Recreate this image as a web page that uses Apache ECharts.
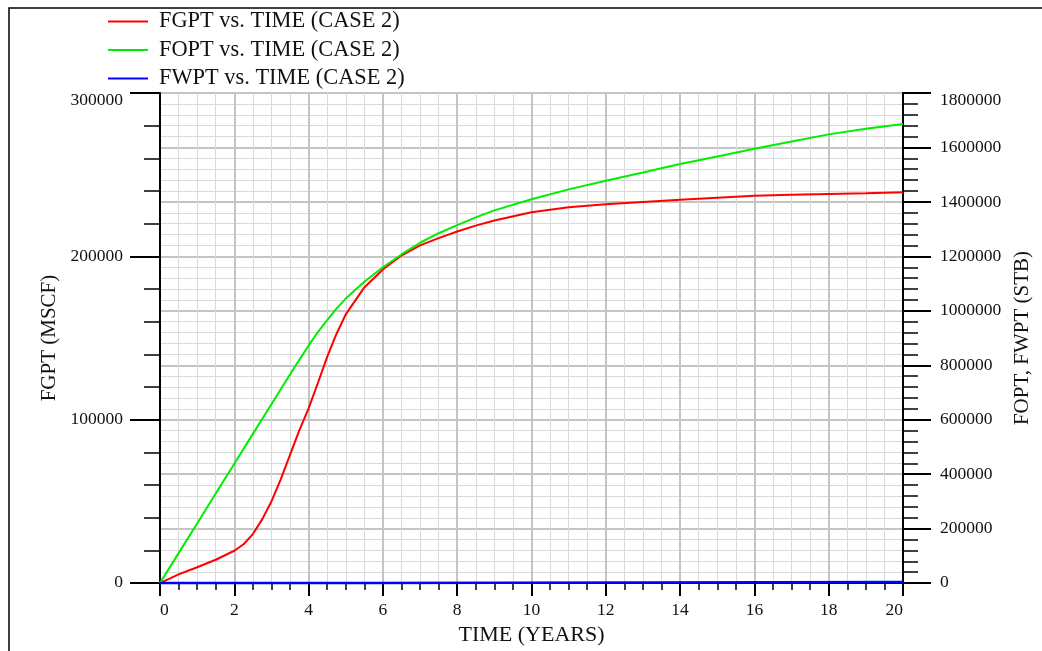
<!DOCTYPE html>
<html>
<head>
<meta charset="utf-8">
<script src="https://cdn.jsdelivr.net/npm/echarts@6/dist/echarts.min.js"></script>
<style>
  html, body { margin: 0; padding: 0; background: #ffffff; }
  #chart { width: 1042px; height: 651px; }
</style>
</head>
<body>
<div id="chart"></div>
<script>
// Simulation time (years)
const TIME = [0, 0.5, 1, 1.5, 2, 2.25, 2.5, 2.75, 3, 3.25, 3.5, 3.75, 4, 4.25, 4.5, 4.75, 5,
  5.5, 6, 6.5, 7, 7.5, 8, 8.5, 9, 10, 11, 12, 13, 14, 15, 16, 17, 18, 19, 20];
// Field gas production total (MSCF)
const FGPT = [0, 5300, 9700, 14300, 19800, 23800, 30000, 39000, 50000, 63500, 78500, 93500,
  107000, 122500, 138500, 152500, 164500, 181000, 192000, 200500, 206700, 211200, 215200,
  218800, 222000, 227000, 230000, 231900, 233300, 234700, 235900, 237100, 237700, 238200,
  238700, 239300];
// Field oil production total (STB)
const FOPT = [0, 110000, 219000, 329000, 438000, 493000, 548000, 603000, 657000, 712000,
  766000, 820000, 872000, 922000, 966000, 1008000, 1045000, 1107000, 1160000, 1207000,
  1250000, 1285000, 1315000, 1343000, 1369000, 1410000, 1446000, 1478000, 1508000,
  1539000, 1567000, 1595000, 1622000, 1648000, 1669000, 1686000];
// Field water production total (STB)
const WATER_TIME = [0, 5.55, 5.6, 20];
const FWPT = [0, 0, 3600, 3600];

const SERIES_NAMES = ['FGPT vs. TIME (CASE 2)', 'FOPT vs. TIME (CASE 2)', 'FWPT vs. TIME (CASE 2)'];
const X_TICKS = { min: 0, max: 20, step: 2 };
const LEFT_TICKS = { min: 0, max: 300000, step: 100000 };
const RIGHT_TICKS = { min: 0, max: 1800000, step: 200000 };

const pairs = (xs, ys) => xs.map((x, i) => [x, ys[i]]);

const FONT = '"Liberation Serif", "DejaVu Serif", serif';
const MAJOR_GRID = '#c4c4c4';
const MINOR_GRID = '#dadada';

// the top label sits a little below its tick
function yLabel(max) {
  return function (v) {
    if (v === max) return '{hi|' + v + '}';
    if (v === 0) return '{lo|' + v + '}';
    return '{n|' + v + '}';
  };
}
const labelRich = {
  n: { fontFamily: FONT, fontSize: 17.5, color: '#111' },
  hi: { fontFamily: FONT, fontSize: 17.5, color: '#111', padding: [14, 0, 0, 0] },
  lo: { fontFamily: FONT, fontSize: 17.5, color: '#111', padding: [0, 0, 1, 0] }
};

const chart = echarts.init(document.getElementById('chart'), null, { renderer: 'canvas' });

chart.setOption({
  backgroundColor: '#ffffff',
  animation: false,
  graphic: [{
    type: 'polyline',
    shape: { points: [[9, 660], [9, 8], [1050, 8]] },
    style: { stroke: '#000', lineWidth: 1.5, fill: null },
    silent: true
  }],
  legend: {
    orient: 'vertical',
    left: 103,
    top: 5,
    itemWidth: 40,
    itemHeight: 2,
    itemGap: 5.5,
    icon: 'rect',
    textStyle: { fontFamily: FONT, fontSize: 22.4, color: '#111', lineHeight: 23, padding: [0, 0, 0, 6] },
    data: SERIES_NAMES
  },
  grid: { left: 160, right: 139, top: 93, bottom: 62, containLabel: false },
  xAxis: {
    type: 'value',
    min: X_TICKS.min, max: X_TICKS.max, interval: X_TICKS.step,
    name: 'TIME (YEARS)',
    nameLocation: 'middle',
    nameGap: 29,
    nameTextStyle: { fontFamily: FONT, fontSize: 22, color: '#111' },
    axisLine: { lineStyle: { color: '#000', width: 2 } },
    axisTick: { length: 13, lineStyle: { color: '#000', width: 2 } },
    minorTick: { show: true, splitNumber: 4, length: 7, lineStyle: { color: '#000', width: 1.5 } },
    axisLabel: {
      fontFamily: FONT, fontSize: 17.5, color: '#111', margin: 18,
      alignMinLabel: 'left', alignMaxLabel: 'right'
    },
    splitLine: { show: true, lineStyle: { color: MAJOR_GRID, width: 2 } },
    minorSplitLine: { show: true, lineStyle: { color: MINOR_GRID, width: 1 } }
  },
  yAxis: [{
    type: 'value',
    position: 'left',
    min: LEFT_TICKS.min, max: LEFT_TICKS.max, interval: LEFT_TICKS.step,
    name: 'FGPT (MSCF)',
    nameLocation: 'middle',
    nameRotate: 90,
    nameGap: 100,
    nameTextStyle: { fontFamily: FONT, fontSize: 21, color: '#111' },
    axisLine: { show: true, onZero: false, lineStyle: { color: '#000', width: 2 } },
    axisTick: { show: true, length: 30, lineStyle: { color: '#000', width: 2 } },
    minorTick: { show: true, splitNumber: 5, length: 16, lineStyle: { color: '#000', width: 1.5 } },
    axisLabel: { margin: 37, formatter: yLabel(LEFT_TICKS.max), rich: labelRich },
    splitLine: { show: false },
    minorSplitLine: { show: false }
  }, {
    type: 'value',
    position: 'right',
    min: RIGHT_TICKS.min, max: RIGHT_TICKS.max, interval: RIGHT_TICKS.step,
    name: 'FOPT, FWPT (STB)',
    nameLocation: 'middle',
    nameRotate: 90,
    nameGap: 102,
    nameTextStyle: { fontFamily: FONT, fontSize: 21, color: '#111' },
    axisLine: { show: true, onZero: false, lineStyle: { color: '#000', width: 2 } },
    axisTick: { show: true, length: 28, lineStyle: { color: '#000', width: 2 } },
    minorTick: { show: true, splitNumber: 5, length: 15, lineStyle: { color: '#000', width: 1.5 } },
    axisLabel: { margin: 37, formatter: yLabel(RIGHT_TICKS.max), rich: labelRich },
    splitLine: { show: true, lineStyle: { color: MAJOR_GRID, width: 2 } },
    minorSplitLine: { show: true, lineStyle: { color: MINOR_GRID, width: 1 } }
  }],
  series: [{
    name: SERIES_NAMES[0],
    type: 'line',
    yAxisIndex: 0,
    data: pairs(TIME, FGPT),
    showSymbol: false,
    smooth: false,
    lineStyle: { color: '#ff0000', width: 2 },
    itemStyle: { color: '#ff0000' },
    z: 3
  }, {
    name: SERIES_NAMES[1],
    type: 'line',
    yAxisIndex: 1,
    data: pairs(TIME, FOPT),
    showSymbol: false,
    smooth: false,
    lineStyle: { color: '#00ee00', width: 2 },
    itemStyle: { color: '#00ee00' },
    z: 3
  }, {
    name: SERIES_NAMES[2],
    type: 'line',
    yAxisIndex: 1,
    data: pairs(WATER_TIME, FWPT),
    showSymbol: false,
    clip: false,
    lineStyle: { color: '#0000ff', width: 2.5 },
    itemStyle: { color: '#0000ff' },
    z: 4
  }]
});
</script>
</body>
</html>
